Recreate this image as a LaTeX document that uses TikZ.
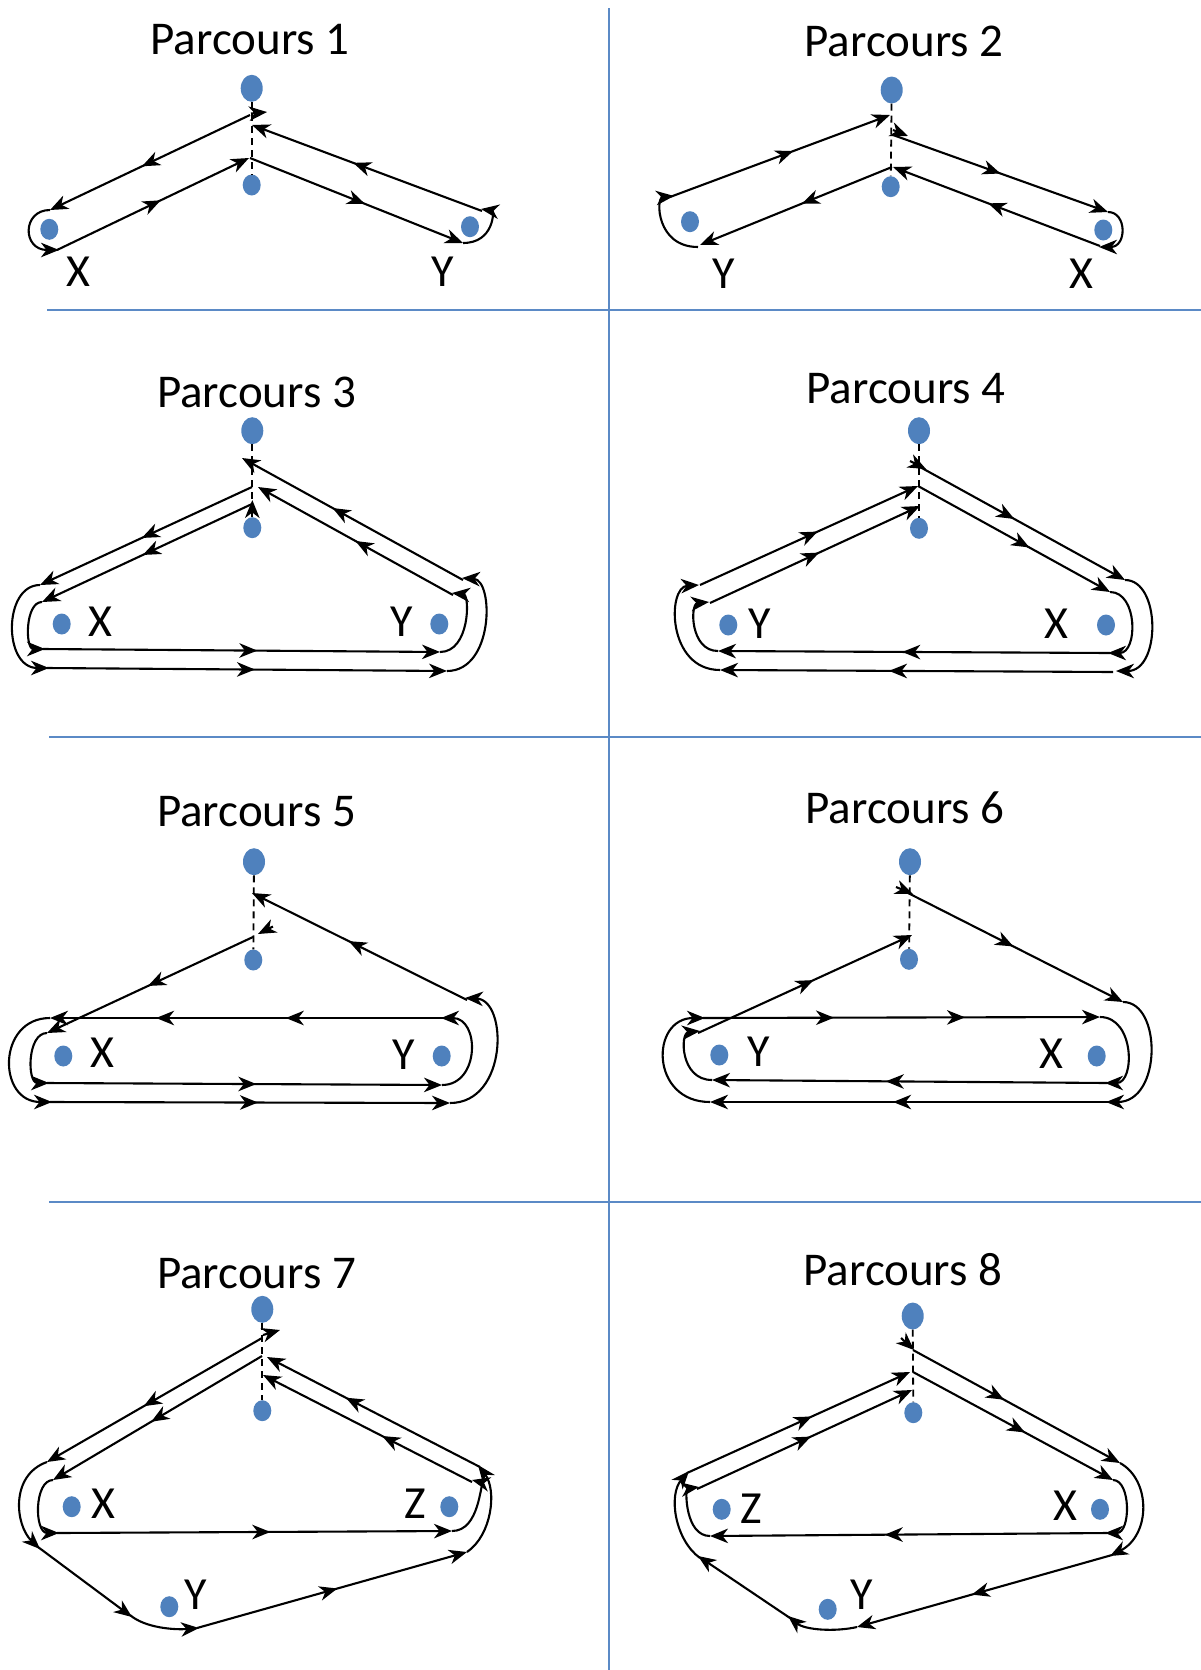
\documentclass[tikz,border=0pt]{standalone}
\usepackage{fontspec}
\setmainfont{Carlito}
\usetikzlibrary{arrows.meta,decorations.markings,shapes.geometric}
\definecolor{dotblue}{HTML}{4F81BD}
\definecolor{sepblue}{HTML}{5B8AC6}
\tikzset{
  rt/.style={line width=2.1pt, black},
  tipend/.style={-{Stealth[length=18pt,width=14.5pt,inset=5.5pt]}},
  midar/.style={postaction={decorate,decoration={markings,mark=at position #1 with {\arrow{Stealth[length=18pt,width=14.5pt,inset=5.5pt]}}}}},
  midartwo/.style 2 args={postaction={decorate,decoration={markings,
      mark=at position #1 with {\arrow{Stealth[length=18pt,width=14.5pt,inset=5.5pt]}},
      mark=at position #2 with {\arrow{Stealth[length=18pt,width=14.5pt,inset=5.5pt]}}}}},
  dsh/.style={line width=1.8pt, dash pattern=on 7pt off 5pt},
  dotbig/.style={ellipse, fill=dotblue, inner sep=0pt, minimum width=22pt, minimum height=27pt},
  dotsm/.style={ellipse, fill=dotblue, inner sep=0pt, minimum width=18pt, minimum height=21pt},
  ttl/.style={anchor=base, inner sep=0pt, font=\fontsize{47}{56}\selectfont},
  lab/.style={anchor=center, inner sep=0pt, font=\fontsize{46}{55}\selectfont},
  sep/.style={draw=sepblue, line width=2pt},
}
\begin{document}
\begin{tikzpicture}[x=1pt,y=-1pt]
\useasboundingbox (0,0) rectangle (1201,1670);
% separators
\draw[sep] (609,8.5) -- (609,1670);
\draw[sep] (47,309.5) -- (1201,309.5);
\draw[sep] (49,737) -- (1201,737);
\draw[sep] (49,1202) -- (1201,1202);

% ================= Parcours 1
\node[ttl] (t1) at (250,55) {Parcours 1};
\node[dotbig] (d1t) at (251.7,88.3) {};
\node[dotsm] (d1b) at (251.7,185) {};
\node[dotsm] (d1x) at (49.3,229.3) {};
\node[dotsm] (d1y) at (470,226.7) {};
\node[lab] (l1x) at (78,271.7) {X};
\node[lab] (l1y) at (443,271.7) {Y};
\draw[dsh] (d1t) -- (d1b);
\draw[rt,tipend] (251,113.5) -- (267,112);
\draw[rt,tipend,midar=0.54] (250,115) -- (50,210);
\draw[rt,tipend] (50,210) .. controls (22,210) and (22,250) .. (59,250);
\draw[rt,tipend,midar=0.54] (57,250) -- (249,158);
\draw[rt,tipend,midar=0.54] (250,158) -- (463,243);
\draw[rt,tipend] (463,243) .. controls (494,243) and (494,211) .. (481,209);
\draw[rt,tipend,midar=0.56] (482,211) -- (252,125);

% ================= Parcours 2
\node[ttl] (t2) at (904,57) {Parcours 2};
\node[dotbig] (d2t) at (891.7,90) {};
\node[dotsm] (d2b) at (890.7,186.7) {};
\node[dotsm] (d2y) at (690,221.7) {};
\node[dotsm] (d2x) at (1103.3,230) {};
\node[lab] (l2y) at (723.3,273.3) {Y};
\node[lab] (l2x) at (1081.7,273.3) {X};
\draw[dsh] (d2t) -- (d2b);
\draw[rt,tipend] (893,130) -- (908,136);
\draw[rt,tipend,midar=0.5] (893,135) -- (1108,212);
\draw[rt,tipend] (1108,212) .. controls (1127,212) and (1127,247) .. (1099,247);
\draw[rt,tipend,midar=0.54] (1100,246) -- (893,167);
\draw[rt,tipend,midar=0.47] (892,167) -- (700,245);
\draw[rt,tipend] (698,247) .. controls (656,247) and (656,198) .. (674,196);
\draw[rt,tipend,midar=0.56] (670,197) -- (890,115);

% ================= Parcours 3
\node[ttl] (t3) at (256.6,407.4) {Parcours 3};
\node[dotbig] (d3t) at (252.3,430.7) {};
\node[dotsm] (d3b) at (252.3,527.7) {};
\node[dotsm] (d3x) at (61.7,624) {};
\node[dotsm] (d3y) at (439.3,624) {};
\node[lab] (l3x) at (100,621.7) {X};
\node[lab] (l3y) at (401.7,621.7) {Y};
\draw[dsh] (d3t) -- (d3b);
\draw[rt,tipend] (252.3,517) -- (252.3,500);
\draw[rt,tipend,midar=0.52] (252,504) -- (42,602);
\draw[rt,tipend] (42,602) .. controls (25,602) and (25,649) .. (45,649);
\draw[rt,tipend,midar=0.54] (43,649) -- (440,652);
\draw[rt,tipend] (440,652) .. controls (470,652) and (470,595) .. (452,593);
\draw[rt,tipend,midar=0.5] (453,595) -- (258,487);
\draw[rt,tipend,midar=0.52] (252,487) -- (40,585);
\draw[rt,tipend] (40,585) .. controls (3,585) and (3,668) .. (49,668);
\draw[rt,tipend,midar=0.52] (47,668) -- (447,671);
\draw[rt,tipend] (447,671) .. controls (494,671) and (494,580) .. (462,578);
\draw[rt,tipend,midar=0.59] (463,580) -- (242,458);

% ================= Parcours 4
\node[ttl] (t4) at (906,403.1) {Parcours 4};
\node[dotbig] (d4t) at (919,430.7) {};
\node[dotsm] (d4b) at (919,528.3) {};
\node[dotsm] (d4y) at (728.3,625) {};
\node[dotsm] (d4x) at (1106,625) {};
\node[lab] (l4y) at (760,624) {Y};
\node[lab] (l4x) at (1056.7,624) {X};
\draw[dsh] (d4t) -- (d4b);
\draw[rt,tipend] (910,461) -- (926,469);
\draw[rt,tipend,midar=0.46] (920,467) -- (1125,580);
\draw[rt,tipend] (1125,580) .. controls (1161,580) and (1161,671) .. (1116,671);
\draw[rt,tipend,midar=0.57] (1113,672) -- (720,670);
\draw[rt,tipend] (720,670) .. controls (667,670) and (667,587) .. (699,585);
\draw[rt,tipend,midar=0.54] (700,585) -- (918,486);
\draw[rt,tipend,midar=0.58] (918,486) -- (1110,592);
\draw[rt,tipend] (1110,592) .. controls (1138,592) and (1138,653) .. (1108,653);
\draw[rt,tipend,midar=0.53] (1110,653) -- (718,651);
\draw[rt,tipend] (718,651) .. controls (690,651) and (690,604) .. (709,602);
\draw[rt,tipend,midar=0.52] (710,603) -- (920,506);

% ================= Parcours 5
\node[ttl] (t5) at (256.6,826.9) {Parcours 5};
\node[dotbig] (d5t) at (254,861.7) {};
\node[dotsm] (d5b) at (253.3,960) {};
\node[dotsm] (d5x) at (63.3,1056) {};
\node[dotsm] (d5y) at (441.7,1056) {};
\node[lab] (l5x) at (102.7,1052.7) {X};
\node[lab] (l5y) at (403.3,1055) {Y};
\draw[dsh] (d5t) -- (d5b);
\draw[rt,tipend] (273,926.5) -- (258,934);
\draw[rt,tipend,midar=0.51] (253,937) -- (47,1033);
\draw[rt,tipend] (47,1033) .. controls (27,1033) and (27,1083) .. (49,1083);
\draw[rt,tipend,midar=0.53] (47,1083) -- (442,1085);
\draw[rt,tipend] (442,1085) .. controls (480,1085) and (480,1018) .. (441,1018);
\draw[rt,tipend,midartwo={0.4}{0.73}] (443,1018) -- (50,1018);
\draw[rt,tipend] (50,1018) .. controls (-3,1018) and (-3,1102) .. (52,1102);
\draw[rt,tipend,midar=0.52] (50,1102) -- (450,1103);
\draw[rt,tipend] (450,1103) .. controls (508,1103) and (508,1000) .. (465,998);
\draw[rt,tipend,midar=0.55] (467,1000) -- (252,893);

% ================= Parcours 6
\node[ttl] (t6) at (905,823.7) {Parcours 6};
\node[dotbig] (d6t) at (910,861.7) {};
\node[dotsm] (d6b) at (909,959.3) {};
\node[dotsm] (d6y) at (719.3,1055) {};
\node[dotsm] (d6x) at (1096.7,1056) {};
\node[lab] (l6y) at (758.3,1051.7) {Y};
\node[lab] (l6x) at (1051.7,1053.3) {X};
\draw[dsh] (d6t) -- (d6b);
\draw[rt,tipend] (896,887) -- (913,894);
\draw[rt,tipend,midar=0.49] (908,893) -- (1123,1002);
\draw[rt,tipend] (1123,1002) .. controls (1162,1002) and (1162,1102) .. (1106,1102);
\draw[rt,tipend,midar=0.54] (1108,1102) -- (710,1102);
\draw[rt,tipend] (710,1102) .. controls (650,1102) and (650,1018) .. (705,1018);
\draw[rt,tipend,midartwo={0.33}{0.66}] (703,1018) -- (1100,1017);
\draw[rt,tipend] (1100,1017) .. controls (1135,1017) and (1135,1083) .. (1105,1083);
\draw[rt,tipend,midar=0.56] (1107,1083) -- (712,1080);
\draw[rt,tipend] (712,1080) .. controls (680,1080) and (680,1033) .. (700,1031);
\draw[rt,tipend,midar=0.54] (698,1033) -- (912,935);

% ================= Parcours 7
\node[ttl] (t7) at (256.6,1288) {Parcours 7};
\node[dotbig] (d7t) at (262.3,1309.3) {};
\node[dotsm] (d7b) at (262.3,1410.7) {};
\node[dotsm] (d7x) at (71.7,1506.7) {};
\node[dotsm] (d7z) at (449.3,1506.7) {};
\node[dotsm] (d7y) at (169.3,1606.7) {};
\node[lab] (l7x) at (103.3,1503.3) {X};
\node[lab] (l7z) at (415,1503.3) {Z};
\node[lab] (l7y) at (196,1595) {Y};
\draw[dsh] (d7t) -- (d7b);
\draw[rt,tipend] (263,1335) -- (280,1330);
\draw[rt,tipend,midar=0.55] (262,1338) -- (47,1462);
\draw[rt,tipend] (47,1462) .. controls (10,1475) and (15,1525) .. (40,1549);
\draw[rt,tipend] (38,1547) -- (132,1617);
\draw[rt,tipend] (130,1615) .. controls (145,1628) and (175,1630) .. (199,1628);
\draw[rt,tipend,midar=0.52] (197,1628) -- (467,1552);
\draw[rt,tipend] (467,1552) .. controls (492,1535) and (497,1490) .. (478,1465);
\draw[rt,tipend,midar=0.63] (480,1467) -- (267,1357);
\draw[rt,tipend,midar=0.53] (262,1356) -- (53,1480);
\draw[rt,tipend] (53,1480) .. controls (34,1480) and (34,1533) .. (59,1533);
\draw[rt,tipend,midar=0.54] (57,1533) -- (452,1531);
\draw[rt,tipend] (452,1531) .. controls (480,1531) and (480,1482) .. (472,1480);
\draw[rt,tipend,midar=0.43] (472,1482) -- (263,1375);

% ================= Parcours 8
\node[ttl] (t8) at (902.9,1285.7) {Parcours 8};
\node[dotbig] (d8t) at (912.7,1316) {};
\node[dotsm] (d8b) at (913.3,1412.7) {};
\node[dotsm] (d8z) at (721.7,1509.3) {};
\node[dotsm] (d8x) at (1100,1509.3) {};
\node[dotsm] (d8y) at (827.7,1609.3) {};
\node[lab] (l8z) at (751.7,1508.3) {Z};
\node[lab] (l8x) at (1065,1506) {X};
\node[lab] (l8y) at (861.7,1595) {Y};
\draw[dsh] (d8t) -- (d8b);
\draw[rt,tipend] (901,1338) -- (914,1350);
\draw[rt,tipend,midar=0.44] (913,1350) -- (1120,1463);
\draw[rt,tipend] (1120,1463) .. controls (1151,1480) and (1151,1535) .. (1110,1556);
\draw[rt,tipend,midar=0.55] (1112,1555) -- (857,1627);
\draw[rt,tipend] (857,1627) .. controls (835,1632) and (805,1630) .. (788,1616);
\draw[rt,tipend] (790,1618) -- (698,1556);
\draw[rt,tipend] (700,1558) .. controls (675,1540) and (668,1495) .. (689,1471);
\draw[rt,tipend,midar=0.56] (687,1473) -- (910,1372);
\draw[rt,tipend,midar=0.56] (913,1372) -- (1113,1480);
\draw[rt,tipend] (1113,1480) .. controls (1131,1480) and (1131,1533) .. (1105,1533);
\draw[rt,tipend,midar=0.56] (1107,1533) -- (710,1536);
\draw[rt,tipend] (710,1536) .. controls (685,1536) and (685,1489) .. (699,1487);
\draw[rt,tipend,midar=0.53] (697,1489) -- (912,1390);
\end{tikzpicture}
\end{document}
